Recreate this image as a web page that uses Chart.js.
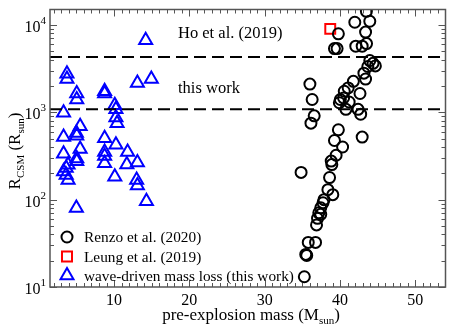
<!DOCTYPE html>
<html><head><meta charset="utf-8">
<script src="https://cdn.jsdelivr.net/npm/chart.js@4/dist/chart.umd.min.js"></script>
<style>html,body{margin:0;padding:0;background:#fff;}#wrap{width:455px;height:327px;}</style>
</head><body><div id="wrap"><canvas id="c" width="455" height="327"></canvas></div>
<script>
// Renzo et al. (2020)
const renzoMass = [43.5,43.95,41.96,39.78,43.39,43.52,42.94,42.09,39.61,39.26,43.95,44.38,44.69,43.69,43.17,43.39,41.77,36.0,41.08,40.56,42.65,36.3,40.47,39.91,41.21,40.04,40.78,42.39,42.74,36.57,36.14,39.78,42.94,39.26,40.34,39.48,38.83,34.83,38.91,38.61,38.39,39.04,37.87,37.74,37.44,37.18,37.44,37.01,36.88,35.78,36.75,35.45,35.58,35.26];
const renzoR    = [14280,11000,10720,7910,8270,6110,5700,5700,5350,5350,3900,3630,3390,3340,2800,2400,2260,2100,1900,1740,1640,1400,1460,1285,1310,1400,1080,1080,950,910,750,630,520,475,400,322,276,205,252,179,130,114,100,92,80.5,70.7,67.8,61.1,51.4,32.4,32.4,23.6,23.0,13.1];
// Leung et al. (2019)
const leungMass = [38.7];
const leungR    = [9000];
// wave-driven mass loss (this work)
const waveMass = [3.75,3.75,5.05,5.05,3.3,5.5,5.0,5.05,3.3,5.5,3.3,5.05,5.05,3.9,3.65,3.3,3.65,3.9,5.0,8.75,8.75,10.1,10.25,10.25,10.4,8.75,8.75,8.75,8.75,10.25,10.1,11.8,11.7,13.1,13.0,13.1,14.3,13.1,14.95,14.2];
const waveR    = [2750,2400,1640,1400,990,690,580,540,520,380,335,295,275,250,230,210,192,168,80,1740,1640,1200,1080,870,750,505,350,316,260,425,183,351,252,266,168,145,96,2160,2400,6650];
// horizontal reference levels
const levelNames  = ["Ho et al. (2019)", "this work"];
const levelValues = [4300, 1080];
// axes
const xRange = [1.5, 54];
const yRange = [10, 15000];
const xTickValues = [10,20,30,40,50];
const yTickExps   = [1,2,3,4];
const legendLabels = ["Renzo et al. (2020)", "Leung et al. (2019)", "wave-driven mass loss (this work)"];

const pts = (xs, ys) => xs.map((x,i)=>({x:x, y:ys[i]}));
const SERIF = '"Liberation Serif","DejaVu Serif",serif';
const FRAME = '#555';

const decor = {
  id:'decor',
  afterDraw(chart){
    const ctx = chart.ctx, a = chart.chartArea;
    const xs = chart.scales.x, ys = chart.scales.y;
    ctx.save();
    ctx.strokeStyle = FRAME; ctx.lineWidth = 1.5;
    ctx.strokeRect(a.left, a.top, a.right-a.left, a.bottom-a.top);
    ctx.lineWidth = 1;
    for (let v = 2; v <= 54; v++) {
      const px = Math.round(xs.getPixelForValue(v)) + 0.5;
      if (px <= a.left || px >= a.right) continue;
      const len = (v % 10 === 0) ? 7 : 4;
      ctx.beginPath();
      ctx.moveTo(px, a.bottom); ctx.lineTo(px, a.bottom - len);
      ctx.moveTo(px, a.top); ctx.lineTo(px, a.top + len);
      ctx.stroke();
    }
    for (let e = 1; e <= 4; e++) {
      for (let m = 1; m <= 9; m++) {
        const v = m * Math.pow(10, e);
        if (v < yRange[0] || v > yRange[1]) continue;
        const py = Math.round(ys.getPixelForValue(v)) + 0.5;
        const len = (m === 1) ? 7 : 4;
        ctx.beginPath();
        ctx.moveTo(a.left, py); ctx.lineTo(a.left + len, py);
        ctx.moveTo(a.right, py); ctx.lineTo(a.right - len, py);
        ctx.stroke();
      }
    }
    ctx.fillStyle = '#000';
    ctx.font = '16px ' + SERIF;
    ctx.textAlign = 'center'; ctx.textBaseline = 'alphabetic';
    xTickValues.forEach(v => ctx.fillText(String(v), xs.getPixelForValue(v), a.bottom + 18));
    yTickExps.forEach(e => {
      const py = ys.getPixelForValue(Math.pow(10, e));
      ctx.font = '11px ' + SERIF;
      const sw = ctx.measureText(String(e)).width;
      ctx.textAlign = 'right';
      ctx.fillText(String(e), a.left - 4, py - 1);
      ctx.font = '16px ' + SERIF;
      ctx.fillText('10', a.left - 4 - sw, py + 7);
    });
    function drawParts(parts, x, y, align){
      let total = 0;
      parts.forEach(p => { ctx.font = p.size + 'px ' + SERIF; p.w = ctx.measureText(p.t).width; total += p.w; });
      let cx = align === 'center' ? x - total/2 : x;
      ctx.textAlign = 'left';
      parts.forEach(p => { ctx.font = p.size + 'px ' + SERIF; ctx.fillText(p.t, cx, y + (p.dy||0)); cx += p.w; });
    }
    drawParts([{t:'pre-explosion mass (M', size:17},{t:'sun', size:11, dy:4},{t:')', size:17}], 251, 320, 'center');
    ctx.save();
    ctx.translate(20, 151);
    ctx.rotate(-Math.PI/2);
    drawParts([{t:'R', size:17},{t:'CSM', size:11, dy:4},{t:' (R', size:17},{t:'sun', size:11, dy:4},{t:')', size:17}], 0, 0, 'center');
    ctx.restore();
    ctx.font = '16.5px ' + SERIF; ctx.textAlign = 'left';
    ctx.fillText(levelNames[0], 178, 38);
    ctx.fillText(levelNames[1], 178, 93);
    const lx = 67, ly = [237, 256.5, 275.5];
    ctx.lineWidth = 2;
    ctx.strokeStyle = '#000';
    ctx.beginPath(); ctx.arc(lx, ly[0], 5.5, 0, Math.PI*2); ctx.stroke();
    ctx.strokeStyle = '#ff0000';
    ctx.strokeRect(lx-5, ly[1]-5, 10, 10);
    ctx.strokeStyle = '#0000ff';
    const r = 7.5;
    ctx.beginPath();
    ctx.moveTo(lx, ly[2]-r);
    ctx.lineTo(lx + r*Math.sin(2*Math.PI/3), ly[2] - r*Math.cos(2*Math.PI/3));
    ctx.lineTo(lx + r*Math.sin(4*Math.PI/3), ly[2] - r*Math.cos(4*Math.PI/3));
    ctx.closePath(); ctx.stroke();
    ctx.fillStyle = '#000';
    ctx.font = '15.3px ' + SERIF; ctx.textAlign = 'left'; ctx.textBaseline = 'middle';
    legendLabels.forEach((t,i) => ctx.fillText(t, 84, ly[i] + 1));
    ctx.restore();
  }
};

new Chart(document.getElementById('c'), {
  type: 'scatter',
  data: {
    datasets: [
      {label: levelNames[0], type:'line', data: pts(xRange, [levelValues[0], levelValues[0]]), borderColor:'#000', borderWidth:2, borderDash:[12,6], pointRadius:0, fill:false},
      {label: levelNames[1], type:'line', data: pts(xRange, [levelValues[1], levelValues[1]]), borderColor:'#000', borderWidth:2, borderDash:[12,6], pointRadius:0, fill:false},
      {label: legendLabels[0], data: pts(renzoMass, renzoR), pointStyle:'circle', pointRadius:5.5, borderColor:'#000', borderWidth:2, backgroundColor:'rgba(0,0,0,0)'},
      {label: legendLabels[1], data: pts(leungMass, leungR), pointStyle:'rect', pointRadius:7, borderColor:'#ff0000', borderWidth:2, backgroundColor:'rgba(0,0,0,0)'},
      {label: legendLabels[2], data: pts(waveMass, waveR), pointStyle:'triangle', pointRadius:7.5, borderColor:'#0000ff', borderWidth:2, backgroundColor:'rgba(0,0,0,0)'}
    ]
  },
  options: {
    responsive:false, animation:false, devicePixelRatio:1,
    layout:{padding:{left:50, top:6, right:2, bottom:40}},
    plugins:{legend:{display:false}, tooltip:{enabled:false}},
    events: [],
    scales:{
      x:{type:'linear', min:xRange[0], max:xRange[1], display:false},
      y:{type:'logarithmic', min:yRange[0], max:yRange[1], display:false}
    }
  },
  plugins:[decor]
});
</script></body></html>
